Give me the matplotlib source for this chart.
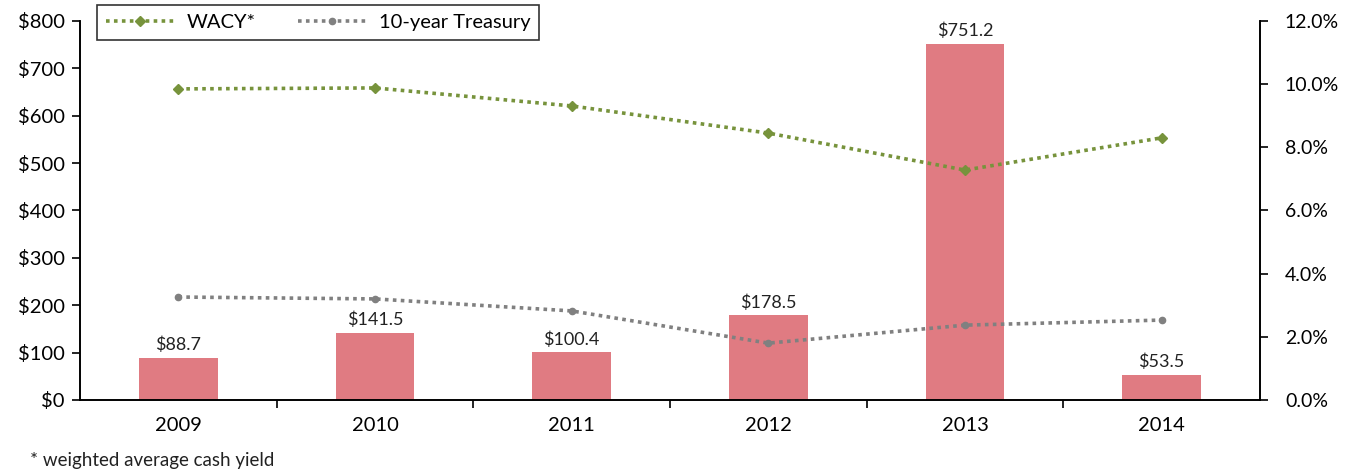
import numpy as np
import matplotlib
import matplotlib.pyplot as plt
from matplotlib.ticker import FuncFormatter

matplotlib.rcParams['font.family'] = ['Lato', 'DejaVu Sans']

years = ['2009', '2010', '2011', '2012', '2013', '2014']
volume = [88.7, 141.5, 100.4, 178.5, 751.2, 53.5]
wacy = [9.85, 9.88, 9.31, 8.45, 7.28, 8.30]
treasury = [3.26, 3.20, 2.82, 1.80, 2.37, 2.53]

bar_color = '#E07B82'
green = '#77933C'
gray = '#808080'

fig = plt.figure(figsize=(13.5, 4.76), dpi=100)
ax1 = fig.add_axes([0.0593, 0.1597, 0.874, 0.7962])
ax2 = ax1.twinx()

x = np.arange(len(years))
ax1.bar(x, volume, width=0.4, color=bar_color, zorder=2)
for xi, v in zip(x, volume):
    ax1.text(xi, v + 10, '${:.1f}'.format(v), ha='center', va='bottom',
             fontsize=13, color='#222222')

ax1.set_xlim(-0.5, 5.5)
ax1.set_ylim(0, 800)
ax1.set_yticks(np.arange(0, 801, 100))
ax1.yaxis.set_major_formatter(FuncFormatter(lambda v, p: '${:.0f}'.format(v)))
ax1.set_xticks(x)
ax1.set_xticklabels(years)
ax1.set_xticks(np.arange(0.5, 5.5, 1), minor=True)
ax1.tick_params(axis='x', which='major', length=0, pad=12, labelsize=14.5)
ax1.tick_params(axis='x', which='minor', length=6, direction='out', width=1.2)
ax1.tick_params(axis='y', length=6, direction='out', width=1.2, labelsize=14.5, pad=5)

ls = (0, (1, 1.2))
ax2.plot(x, wacy, color=green, linestyle=ls, linewidth=2.6, marker='D',
         markersize=5, label='WACY*', zorder=3)
ax2.plot(x, treasury, color=gray, linestyle=ls, linewidth=2.6, marker='o',
         markersize=4.5, label='10-year Treasury', zorder=3)
ax2.set_ylim(0, 12)
ax2.set_yticks(np.arange(0, 12.1, 2))
ax2.yaxis.set_major_formatter(FuncFormatter(lambda v, p: '{:.1f}%'.format(v)))
ax2.tick_params(axis='y', length=6, direction='out', width=1.2, labelsize=14, pad=12)

for ax in (ax1, ax2):
    ax.spines['top'].set_visible(False)
    for s in ('left', 'right', 'bottom'):
        ax.spines[s].set_linewidth(1.2)

leg = ax2.legend(loc='upper left', bbox_to_anchor=(0.0144, 1.042), ncol=2,
                 fontsize=14.5, frameon=True, fancybox=False, edgecolor='black',
                 handlelength=3.4, handletextpad=0.6, columnspacing=2.1,
                 borderpad=0.45, borderaxespad=0)
leg.get_frame().set_linewidth(1.2)

fig.text(0.022, 0.02, '* weighted average cash yield', fontsize=13.5, color='#222222')

plt.savefig('out.png', dpi=100)
